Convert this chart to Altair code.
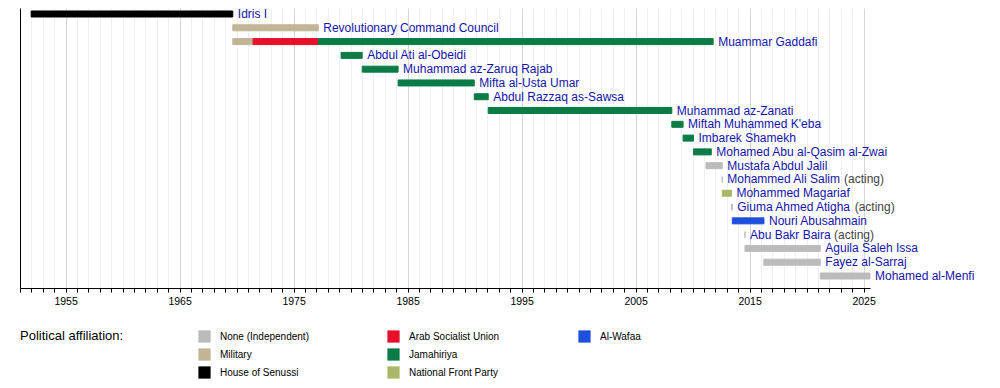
import altair as alt
import pandas as pd

# ---- data ----
names = [
    "Idris I", "Revolutionary Command Council", "Muammar Gaddafi",
    "Abdul Ati al-Obeidi", "Muhammad az-Zaruq Rajab", "Mifta al-Usta Umar",
    "Abdul Razzaq as-Sawsa", "Muhammad az-Zanati", "Miftah Muhammed K'eba",
    "Imbarek Shamekh", "Mohamed Abu al-Qasim al-Zwai", "Mustafa Abdul Jalil",
    "Mohammed Ali Salim", "Mohammed Magariaf", "Giuma Ahmed Atigha",
    "Nouri Abusahmain", "Abu Bakr Baira", "Aguila Saleh Issa",
    "Fayez al-Sarraj", "Mohamed al-Menfi",
]
suffixes = ["", "", "", "", "", "", "", "", "", "", "", "",
            "(acting)", "", "(acting)", "", "(acting)", "", "", ""]

seg_name = [
    "Idris I", "Revolutionary Command Council",
    "Muammar Gaddafi", "Muammar Gaddafi", "Muammar Gaddafi",
    "Abdul Ati al-Obeidi", "Muhammad az-Zaruq Rajab", "Mifta al-Usta Umar",
    "Abdul Razzaq as-Sawsa", "Muhammad az-Zanati", "Miftah Muhammed K'eba",
    "Imbarek Shamekh", "Mohamed Abu al-Qasim al-Zwai", "Mustafa Abdul Jalil",
    "Mohammed Ali Salim", "Mohammed Magariaf", "Giuma Ahmed Atigha",
    "Nouri Abusahmain", "Abu Bakr Baira", "Aguila Saleh Issa",
    "Fayez al-Sarraj", "Mohamed al-Menfi",
]
seg_start = [
    "1951-12-24", "1969-09-01",
    "1969-09-01", "1971-06-12", "1977-03-02",
    "1979-03-02", "1981-01-07", "1984-03-02",
    "1990-11-07", "1992-01-28", "2008-03-05",
    "2009-03-02", "2010-01-28", "2011-03-05",
    "2012-08-08", "2012-08-09", "2013-05-28",
    "2013-06-25", "2014-08-04", "2014-08-05",
    "2016-03-30", "2021-03-15",
]
seg_end = [
    "1969-09-01", "1977-03-02",
    "1971-06-12", "1977-03-02", "2011-10-20",
    "1981-01-07", "1984-03-02", "1990-11-07",
    "1992-01-28", "2008-03-05", "2009-03-02",
    "2010-01-28", "2011-08-23", "2012-08-08",
    "2012-08-09", "2013-05-28", "2013-06-25",
    "2016-04-05", "2014-08-05", "2021-03-15",
    "2021-03-15", "2025-07-24",
]
seg_aff = [
    "House of Senussi", "Military",
    "Military", "Arab Socialist Union", "Jamahiriya",
    "Jamahiriya", "Jamahiriya", "Jamahiriya",
    "Jamahiriya", "Jamahiriya", "Jamahiriya",
    "Jamahiriya", "Jamahiriya", "None (Independent)",
    "None (Independent)", "National Front Party", "None (Independent)",
    "Al-Wafaa", "None (Independent)", "None (Independent)",
    "None (Independent)", "None (Independent)",
]

aff_names = ["None (Independent)", "Military", "House of Senussi",
             "Arab Socialist Union", "Jamahiriya", "National Front Party",
             "Al-Wafaa"]
aff_colors = ["#bbbbbb", "#c2b596", "#000000",
              "#e8102a", "#0b7c46", "#a8b866",
              "#1f4fdf"]
aff_column = [0, 0, 0, 1, 1, 1, 2]

year_start = 1951
year_end = 2025.56


def to_year(s):
    d = pd.to_datetime(pd.Series(s))
    days = d.dt.is_leap_year.map({True: 366.0, False: 365.0})
    return (d.dt.year + (d.dt.dayofyear - 1) / days).tolist()


row_of = {n: i for i, n in enumerate(names)}
segs = pd.DataFrame({
    "name": seg_name,
    "row": [row_of[n] for n in seg_name],
    "start": to_year(seg_start),
    "end": to_year(seg_end),
    "aff": seg_aff,
})
labels = segs.groupby("name", as_index=False).agg(row=("row", "first"), end=("end", "max"))
labels["suffix"] = labels["row"].map(lambda r: suffixes[r])

FONT = "Liberation Sans"
LABEL_SIZE = 12
W, H = 850, 280

# Arial / Liberation Sans advance widths (1/1000 em), used to place "(acting)"
ARIAL = {
    " ": 278, "(": 333, ")": 333, "'": 191, "-": 333,
    "A": 667, "B": 667, "G": 778, "M": 833, "S": 667,
    "a": 556, "b": 556, "c": 500, "d": 556, "e": 556, "f": 278, "g": 556,
    "h": 556, "i": 222, "k": 500, "l": 222, "m": 833, "n": 556, "o": 556,
    "r": 333, "s": 500, "t": 278, "u": 556, "y": 500,
}


def text_width(s, size):
    return sum(ARIAL.get(ch, 556) for ch in s) * size / 1000.0


xscale = alt.Scale(domain=[year_start, year_end], nice=False, zero=False)
yscale = alt.Scale(domain=[-0.435, 19.87], reverse=True, nice=False, zero=False, padding=0)

xaxis = alt.Axis(
    title=None,
    values=list(range(1951, 2026)),
    tickCount=200,
    format="d",
    labelExpr="datum.value % 10 == 5 ? datum.label : ''",
    labelFont=FONT, labelFontSize=10.5, labelColor="black", labelPadding=4,
    tickColor="black", tickSize=4, tickWidth=1,
    domainColor="black", domainWidth=1,
    grid=True,
    gridColor={"condition": {"test": "datum.value % 10 == 5", "value": "#d6d6d6"},
               "value": "#f0f0f0"},
    gridWidth=1,
    labelFlush=False, labelOverlap=False,
)
yaxis = alt.Axis(title=None, labels=False, ticks=False, grid=False,
                 domain=True, domainColor="black", domainWidth=1)

legend_x = [0, 367, 558]
legend_y = 322


def bar_layer(col):
    dom = [a for a, c in zip(aff_names, aff_column) if c == col]
    rng = [k for k, c in zip(aff_colors, aff_column) if c == col]
    leg = dict(
        orient="none", legendX=legend_x[col], legendY=legend_y,
        direction="vertical", symbolType="square", symbolSize=150,
        symbolStrokeWidth=0, labelFont=FONT, labelFontSize=10,
        labelColor="black", labelOffset=9, rowPadding=5, padding=0,
        labelLimit=200,
    )
    if col == 0:
        leg.update(title="Political affiliation:", titleOrient="left",
                   titleFont=FONT, titleFontSize=13, titleFontWeight="normal",
                   titleColor="black", titlePadding=74, titleAnchor="start",
                   titleBaseline="top", titleLimit=300)
    else:
        leg.update(title=None)
    return alt.Chart(segs).transform_filter(
        alt.FieldOneOfPredicate(field="aff", oneOf=dom)
    ).mark_bar(size=6, strokeWidth=1).encode(
        x=alt.X("start:Q", scale=xscale, axis=xaxis),
        x2="end:Q",
        y=alt.Y("row:Q", scale=yscale, axis=yaxis),
        color=alt.Color("aff:N", scale=alt.Scale(domain=dom, range=rng),
                        legend=alt.Legend(**leg)),
        stroke=alt.Stroke("aff:N", scale=alt.Scale(domain=dom, range=rng), legend=None),
    )


names_text = alt.Chart(labels).mark_text(
    align="left", baseline="middle", dx=5, font=FONT, fontSize=LABEL_SIZE, color="#1414aa"
).encode(
    x=alt.X("end:Q", scale=xscale),
    y=alt.Y("row:Q", scale=yscale),
    text="name:N",
)

acting_layers = []
for nm, sfx in zip(names, suffixes):
    if not sfx:
        continue
    off = 5 + text_width(nm + " ", LABEL_SIZE)
    acting_layers.append(
        alt.Chart(labels).transform_filter(
            alt.FieldEqualPredicate(field="name", equal=nm)
        ).mark_text(
            align="left", baseline="middle", dx=off, font=FONT,
            fontSize=LABEL_SIZE, color="#444444"
        ).encode(
            x=alt.X("end:Q", scale=xscale),
            y=alt.Y("row:Q", scale=yscale),
            text="suffix:N",
        )
    )

chart = alt.layer(
    bar_layer(0), bar_layer(1), bar_layer(2), names_text, *acting_layers
).resolve_scale(
    color="independent", stroke="independent"
).properties(
    width=W, height=H,
    autosize=alt.AutoSizeParams(type="none"),
    padding={"left": 12, "top": 0, "right": 122, "bottom": 92},
).configure_view(stroke=None)

chart.save("out.html", embed_options={"renderer": "svg", "actions": False})
